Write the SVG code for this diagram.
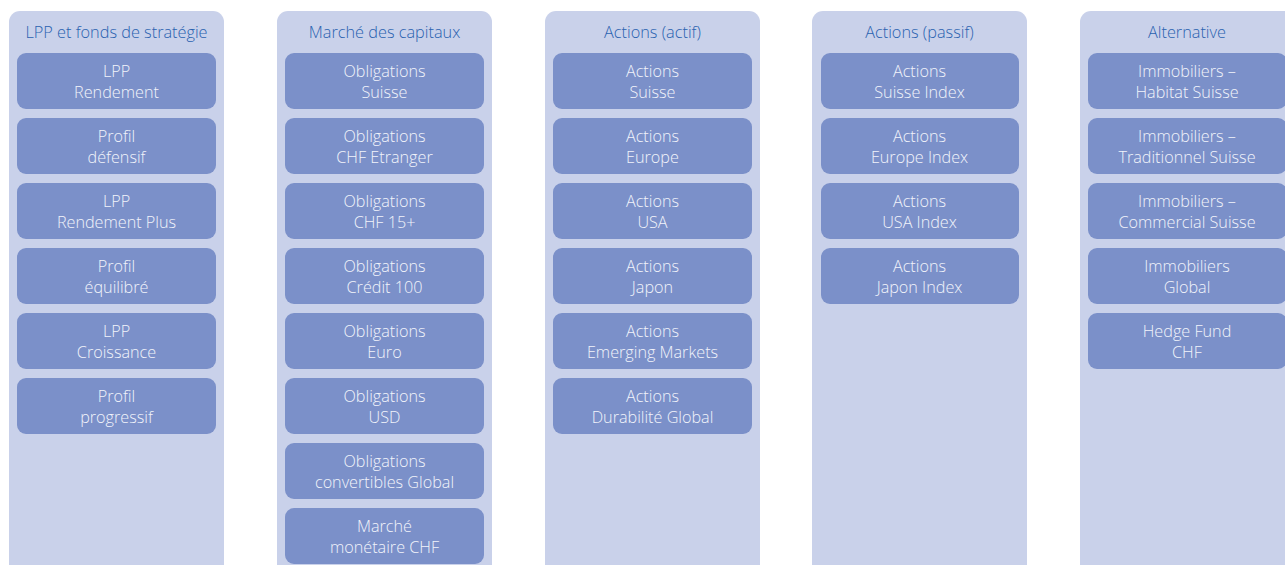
<svg xmlns="http://www.w3.org/2000/svg" width="1285" height="565" viewBox="0 0 1285 565">
<style>
.col{fill:#c9d1ea}
.box{fill:#7b90c9}
.h{font-family:"Open Sans","Noto Sans",sans-serif;font-weight:300;font-size:16.3px;fill:#2a62b0;text-anchor:middle}
.t{font-family:"Open Sans","Noto Sans",sans-serif;font-weight:300;font-size:16.2px;fill:#f2f4fb;text-anchor:middle}
</style>
<rect width="1285" height="565" fill="#ffffff"/>
<g id="col1">
<rect class="col" x="9" y="11" width="215" height="570" rx="11"/>
<text class="h" x="116.5" y="38">LPP et fonds de stratégie</text>
<g id="n1-1"><rect class="box" x="17" y="53" width="199" height="56" rx="9"/><text class="t" x="116.5" y="77">LPP</text><text class="t" x="116.5" y="98">Rendement</text></g>
<g id="n1-2"><rect class="box" x="17" y="118" width="199" height="56" rx="9"/><text class="t" x="116.5" y="142">Profil</text><text class="t" x="116.5" y="163">défensif</text></g>
<g id="n1-3"><rect class="box" x="17" y="183" width="199" height="56" rx="9"/><text class="t" x="116.5" y="207">LPP</text><text class="t" x="116.5" y="228">Rendement Plus</text></g>
<g id="n1-4"><rect class="box" x="17" y="248" width="199" height="56" rx="9"/><text class="t" x="116.5" y="272">Profil</text><text class="t" x="116.5" y="293">équilibré</text></g>
<g id="n1-5"><rect class="box" x="17" y="313" width="199" height="56" rx="9"/><text class="t" x="116.5" y="337">LPP</text><text class="t" x="116.5" y="358">Croissance</text></g>
<g id="n1-6"><rect class="box" x="17" y="378" width="199" height="56" rx="9"/><text class="t" x="116.5" y="402">Profil</text><text class="t" x="116.5" y="423">progressif</text></g>
</g>
<g id="col2">
<rect class="col" x="277" y="11" width="215" height="570" rx="11"/>
<text class="h" x="384.5" y="38">Marché des capitaux</text>
<g id="n2-1"><rect class="box" x="285" y="53" width="199" height="56" rx="9"/><text class="t" x="384.5" y="77">Obligations</text><text class="t" x="384.5" y="98">Suisse</text></g>
<g id="n2-2"><rect class="box" x="285" y="118" width="199" height="56" rx="9"/><text class="t" x="384.5" y="142">Obligations</text><text class="t" x="384.5" y="163">CHF Etranger</text></g>
<g id="n2-3"><rect class="box" x="285" y="183" width="199" height="56" rx="9"/><text class="t" x="384.5" y="207">Obligations</text><text class="t" x="384.5" y="228">CHF 15+</text></g>
<g id="n2-4"><rect class="box" x="285" y="248" width="199" height="56" rx="9"/><text class="t" x="384.5" y="272">Obligations</text><text class="t" x="384.5" y="293">Crédit 100</text></g>
<g id="n2-5"><rect class="box" x="285" y="313" width="199" height="56" rx="9"/><text class="t" x="384.5" y="337">Obligations</text><text class="t" x="384.5" y="358">Euro</text></g>
<g id="n2-6"><rect class="box" x="285" y="378" width="199" height="56" rx="9"/><text class="t" x="384.5" y="402">Obligations</text><text class="t" x="384.5" y="423">USD</text></g>
<g id="n2-7"><rect class="box" x="285" y="443" width="199" height="56" rx="9"/><text class="t" x="384.5" y="467">Obligations</text><text class="t" x="384.5" y="488">convertibles Global</text></g>
<g id="n2-8"><rect class="box" x="285" y="508" width="199" height="56" rx="9"/><text class="t" x="384.5" y="532">Marché</text><text class="t" x="384.5" y="553">monétaire CHF</text></g>
</g>
<g id="col3">
<rect class="col" x="545" y="11" width="215" height="570" rx="11"/>
<text class="h" x="652.5" y="38">Actions (actif)</text>
<g id="n3-1"><rect class="box" x="553" y="53" width="199" height="56" rx="9"/><text class="t" x="652.5" y="77">Actions</text><text class="t" x="652.5" y="98">Suisse</text></g>
<g id="n3-2"><rect class="box" x="553" y="118" width="199" height="56" rx="9"/><text class="t" x="652.5" y="142">Actions</text><text class="t" x="652.5" y="163">Europe</text></g>
<g id="n3-3"><rect class="box" x="553" y="183" width="199" height="56" rx="9"/><text class="t" x="652.5" y="207">Actions</text><text class="t" x="652.5" y="228">USA</text></g>
<g id="n3-4"><rect class="box" x="553" y="248" width="199" height="56" rx="9"/><text class="t" x="652.5" y="272">Actions</text><text class="t" x="652.5" y="293">Japon</text></g>
<g id="n3-5"><rect class="box" x="553" y="313" width="199" height="56" rx="9"/><text class="t" x="652.5" y="337">Actions</text><text class="t" x="652.5" y="358">Emerging Markets</text></g>
<g id="n3-6"><rect class="box" x="553" y="378" width="199" height="56" rx="9"/><text class="t" x="652.5" y="402">Actions</text><text class="t" x="652.5" y="423">Durabilité Global</text></g>
</g>
<g id="col4">
<rect class="col" x="812" y="11" width="215" height="570" rx="11"/>
<text class="h" x="919.5" y="38">Actions (passif)</text>
<g id="n4-1"><rect class="box" x="821" y="53" width="198" height="56" rx="9"/><text class="t" x="919.5" y="77">Actions</text><text class="t" x="919.5" y="98">Suisse Index</text></g>
<g id="n4-2"><rect class="box" x="821" y="118" width="198" height="56" rx="9"/><text class="t" x="919.5" y="142">Actions</text><text class="t" x="919.5" y="163">Europe Index</text></g>
<g id="n4-3"><rect class="box" x="821" y="183" width="198" height="56" rx="9"/><text class="t" x="919.5" y="207">Actions</text><text class="t" x="919.5" y="228">USA Index</text></g>
<g id="n4-4"><rect class="box" x="821" y="248" width="198" height="56" rx="9"/><text class="t" x="919.5" y="272">Actions</text><text class="t" x="919.5" y="293">Japon Index</text></g>
</g>
<g id="col5">
<rect class="col" x="1080" y="11" width="215" height="570" rx="11"/>
<text class="h" x="1187" y="38">Alternative</text>
<g id="n5-1"><rect class="box" x="1088" y="53" width="199" height="56" rx="9"/><text class="t" x="1187" y="77">Immobiliers –</text><text class="t" x="1187" y="98">Habitat Suisse</text></g>
<g id="n5-2"><rect class="box" x="1088" y="118" width="199" height="56" rx="9"/><text class="t" x="1187" y="142">Immobiliers –</text><text class="t" x="1187" y="163">Traditionnel Suisse</text></g>
<g id="n5-3"><rect class="box" x="1088" y="183" width="199" height="56" rx="9"/><text class="t" x="1187" y="207">Immobiliers –</text><text class="t" x="1187" y="228">Commercial Suisse</text></g>
<g id="n5-4"><rect class="box" x="1088" y="248" width="199" height="56" rx="9"/><text class="t" x="1187" y="272">Immobiliers</text><text class="t" x="1187" y="293">Global</text></g>
<g id="n5-5"><rect class="box" x="1088" y="313" width="199" height="56" rx="9"/><text class="t" x="1187" y="337">Hedge Fund</text><text class="t" x="1187" y="358">CHF</text></g>
</g>
<g id="connectors"/>
</svg>
